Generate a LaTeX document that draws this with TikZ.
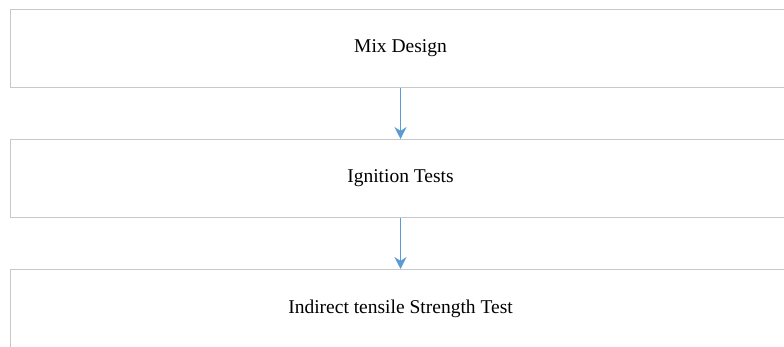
\documentclass[tikz,border=0pt]{standalone}
\usepackage{fontspec}
\setmainfont{Liberation Serif}
\usetikzlibrary{arrows.meta, positioning}
\definecolor{boxgray}{RGB}{200,200,200}
\definecolor{arrowblue}{RGB}{91,155,213}

\begin{document}
\begin{tikzpicture}[
    node distance=51pt,
    box/.style={draw=boxgray, line width=1pt, fill=white, align=center,
      minimum width=780pt, minimum height=78pt, inner sep=0pt,
      font=\fontsize{19.5}{23}\selectfont},
    arrow/.style={-{Stealth[length=12pt, width=12pt]}, draw=arrowblue, line width=1.6pt}
]
\useasboundingbox (0,0) rectangle (784pt,-347pt);

% Nodes
\node[box, anchor=north west] (mix) at (10pt,-9pt) {Mix Design};
\node[box, below=of mix] (ign) {Ignition Tests};
\node[box, below=of ign] (its) {Indirect tensile Strength Test};

% Arrows
\draw[arrow] (mix) -- (ign);
\draw[arrow] (ign) -- (its);

\end{tikzpicture}
\end{document}
